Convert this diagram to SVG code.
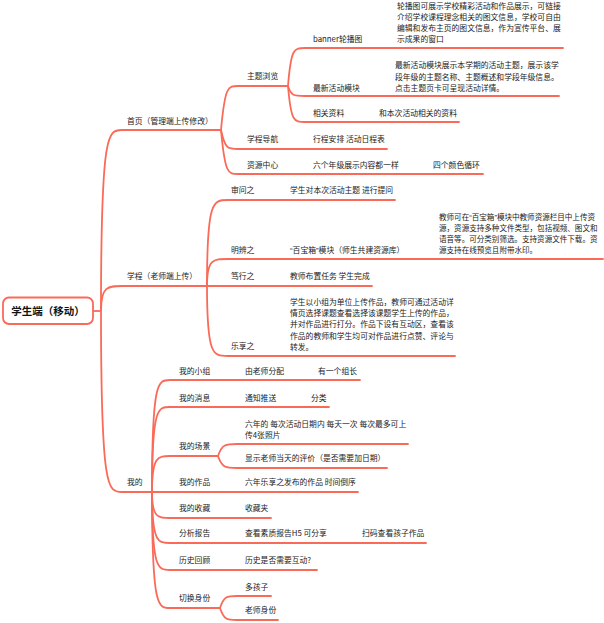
<svg xmlns="http://www.w3.org/2000/svg" width="604" height="623" viewBox="0 0 604 623">
<style>
.t{font-family:"Noto Sans CJK SC","Noto Sans",sans-serif;font-size:7.8px;fill:#222}
.s{font-size:7.55px}
.q{font-family:"Liberation Sans",sans-serif}
.r{font-family:"Noto Sans CJK SC","Noto Sans",sans-serif;font-size:10.5px;font-weight:bold;fill:#111}
.u{stroke:#FA6A58;stroke-width:1.8;fill:none;stroke-linecap:round}
.c{stroke:#FA6A58;stroke-width:1.8;fill:none}
</style>
<rect width="604" height="623" fill="#fff"/>
<g id="connectors">
<path class="c" d="M93,311 L101,311"/>
<path class="c" d="M101,311 C101,130 108,130 122,130"/>
<path class="c" d="M101,311 C101,286 108,286 122,286"/>
<path class="c" d="M101,311 C101,492 108,492 122,492"/>
<path class="c" d="M221,130 C225,86 228,86 238,86"/>
<path class="c" d="M221,130 C225,149 228,149 238,149"/>
<path class="c" d="M221,130 C225,174 228,174 238,174"/>
<path class="c" d="M288,86 C291,48 294,48 305,48"/>
<path class="c" d="M288,86 C291,96 294,96 305,96"/>
<path class="c" d="M288,86 C291,122 294,122 305,122"/>
<path class="c" d="M207,286 C207,200 213,200 228,200"/>
<path class="c" d="M207,286 C207,259 213,259 228,259"/>
<path class="c" d="M207,286 C207,356 213,356 228,356"/>
<path class="c" d="M152,492 C152,380 158,380 170,380"/>
<path class="c" d="M152,492 C152,407 158,407 170,407"/>
<path class="c" d="M152,492 C152,456 158,456 170,456"/>
<path class="c" d="M152,492 C152,518 158,518 170,518"/>
<path class="c" d="M152,492 C152,543 158,543 170,543"/>
<path class="c" d="M152,492 C152,570 158,570 170,570"/>
<path class="c" d="M152,492 C152,608 158,608 170,608"/>
<path class="c" d="M218,456 C222,444 226,444 237,444"/>
<path class="c" d="M218,456 C222,468 226,468 237,468"/>
<path class="c" d="M220,608 C224,596 227,596 237,596"/>
<path class="c" d="M220,608 C224,620 227,620 237,620"/>
</g>
<g id="root">
<rect x="3" y="297.5" width="90" height="26.5" rx="6" fill="#fff" stroke="#FA6A58" stroke-width="1.8"/>
<text class="r" x="48" y="314.5" text-anchor="middle">学生端（移动）</text>
</g>
<g id="n-home"><text class="t" x="127" y="124">首页（管理端上传修改）</text><path class="u" d="M122,130 H221"/></g>
<g id="n-topic"><text class="t" x="247" y="79">主题浏览</text><path class="u" d="M238,86 H288"/></g>
<g id="n-banner"><text class="t" x="313" y="42">banner轮播图</text><path class="u" d="M305,48 H390"/></g>
<g id="n-banner-desc">
<text class="t" x="397" y="9">轮播图可展示学校精彩活动和作品展示，可链接</text>
<text class="t" x="397" y="20">介绍学校课程理念相关的图文信息，学校可自由</text>
<text class="t" x="397" y="31">编辑和发布主页的图文信息，作为宣传平台、展</text>
<text class="t" x="397" y="42">示成果的窗口</text>
<path class="u" d="M390,48 H563"/></g>
<g id="n-latest"><text class="t" x="313" y="91">最新活动模块</text><path class="u" d="M305,96 H390"/></g>
<g id="n-latest-desc">
<text class="t" x="395" y="68">最新活动模块展示本学期的活动主题，展示该学</text>
<text class="t" x="395" y="80">段年级的主题名称、主题概述和学段年级信息。</text>
<text class="t" x="395" y="91">点击主题页卡可呈现活动详情。</text>
<path class="u" d="M390,96 H559"/></g>
<g id="n-related"><text class="t" x="313" y="116">相关资料</text><path class="u" d="M305,122 H375"/></g>
<g id="n-related-desc"><text class="t" x="379" y="116">和本次活动相关的资料</text><path class="u" d="M375,122 H459"/></g>
<g id="n-nav"><text class="t" x="247" y="142">学程导航</text><path class="u" d="M238,149 H305"/></g>
<g id="n-nav-desc"><text class="t" x="313" y="142">行程安排 活动日程表</text><path class="u" d="M305,149 H387"/></g>
<g id="n-res"><text class="t" x="247" y="168">资源中心</text><path class="u" d="M238,174 H305"/></g>
<g id="n-res-desc"><text class="t" x="313" y="168">六个年级展示内容都一样</text><path class="u" d="M305,174 H425"/></g>
<g id="n-res-color"><text class="t" x="433" y="168">四个颜色循环</text><path class="u" d="M425,174 H483"/></g>
<g id="n-course"><text class="t" x="127" y="279">学程（老师端上传）</text><path class="u" d="M122,286 H207"/></g>
<g id="n-ask"><text class="t" x="231" y="193">审问之</text><path class="u" d="M228,200 H285"/></g>
<g id="n-ask-desc"><text class="t" x="290" y="193">学生对本次活动主题 进行提问</text><path class="u" d="M285,200 H395"/></g>
<g id="n-think"><text class="t" x="231" y="253">明辨之</text><path class="u" d="M228,259 H285"/></g>
<g id="n-box"><text class="t" x="290" y="253"><tspan class="q">“</tspan>百宝箱<tspan class="q">”</tspan>模块（师生共建资源库）</text><path class="u" d="M285,259 H432"/></g>
<g id="n-box-desc">
<text class="t s" x="439" y="220">教师可在<tspan class="q">“</tspan>百宝箱<tspan class="q">”</tspan>模块中教师资源栏目中上传资</text>
<text class="t s" x="439" y="231">源，资源支持多种文件类型，包括视频、图文和</text>
<text class="t s" x="439" y="242">语音等。可分类别筛选。支持资源文件下载。资</text>
<text class="t s" x="439" y="253">源支持在线预览且附带水印。</text>
<path class="u" d="M432,259 H603"/></g>
<g id="n-do"><text class="t" x="231" y="279">笃行之</text><path class="u" d="M207,286 H285"/></g>
<g id="n-do-desc"><text class="t" x="290" y="279">教师布置任务 学生完成</text><path class="u" d="M285,286 H372"/></g>
<g id="n-share"><text class="t" x="231" y="349">乐享之</text><path class="u" d="M228,356 H285"/></g>
<g id="n-share-desc">
<text class="t" x="290" y="305">学生以小组为单位上传作品，教师可通过活动详</text>
<text class="t" x="290" y="316">情页选择课题查看选择该课题学生上传的作品，</text>
<text class="t" x="290" y="327">并对作品进行打分。作品下设有互动区，查看该</text>
<text class="t" x="290" y="339">作品的教师和学生均可对作品进行点赞、评论与</text>
<text class="t" x="290" y="350">转发。</text>
<path class="u" d="M285,356 H455"/></g>
<g id="n-mine"><text class="t" x="127" y="485">我的</text><path class="u" d="M122,492 H152"/></g>
<g id="n-group"><text class="t" x="179" y="374">我的小组</text><path class="u" d="M170,380 H240"/></g>
<g id="n-group-a"><text class="t" x="245" y="374">由老师分配</text><path class="u" d="M240,380 H312"/></g>
<g id="n-group-b"><text class="t" x="318" y="374">有一个组长</text><path class="u" d="M312,380 H360"/></g>
<g id="n-msg"><text class="t" x="179" y="401">我的消息</text><path class="u" d="M170,407 H240"/></g>
<g id="n-msg-a"><text class="t" x="245" y="401">通知推送</text><path class="u" d="M240,407 H305"/></g>
<g id="n-msg-b"><text class="t" x="311" y="401">分类</text><path class="u" d="M305,407 H329"/></g>
<g id="n-scene"><text class="t" x="179" y="449">我的场景</text><path class="u" d="M170,456 H218"/></g>
<g id="n-scene-a">
<text class="t" x="245" y="427">六年的 每次活动日期内 每天一次 每次最多可上</text>
<text class="t" x="245" y="438">传4张照片</text>
<path class="u" d="M237,444 H408"/></g>
<g id="n-scene-b"><text class="t" x="245" y="461">显示老师当天的评价（是否需要加日期）</text><path class="u" d="M237,468 H387"/></g>
<g id="n-works"><text class="t" x="179" y="485">我的作品</text><path class="u" d="M152,492 H240"/></g>
<g id="n-works-a"><text class="t" x="245" y="485">六年乐享之发布的作品 时间倒序</text><path class="u" d="M240,492 H358"/></g>
<g id="n-fav"><text class="t" x="179" y="511">我的收藏</text><path class="u" d="M170,518 H240"/></g>
<g id="n-fav-a"><text class="t" x="245" y="511">收藏夹</text><path class="u" d="M240,518 H271"/></g>
<g id="n-report"><text class="t" x="179" y="536">分析报告</text><path class="u" d="M170,543 H240"/></g>
<g id="n-report-a"><text class="t" x="245" y="536">查看素质报告H5 可分享</text><path class="u" d="M240,543 H355"/></g>
<g id="n-report-b"><text class="t" x="362" y="536">扫码查看孩子作品</text><path class="u" d="M355,543 H426"/></g>
<g id="n-history"><text class="t" x="179" y="563">历史回顾</text><path class="u" d="M170,570 H240"/></g>
<g id="n-history-a"><text class="t" x="245" y="563">历史是否需要互动?</text><path class="u" d="M240,570 H317"/></g>
<g id="n-switch"><text class="t" x="179" y="601">切换身份</text><path class="u" d="M170,608 H220"/></g>
<g id="n-switch-a"><text class="t" x="245" y="590">多孩子</text><path class="u" d="M237,596 H271"/></g>
<g id="n-switch-b"><text class="t" x="245" y="613">老师身份</text><path class="u" d="M237,620 H278"/></g>
</svg>
